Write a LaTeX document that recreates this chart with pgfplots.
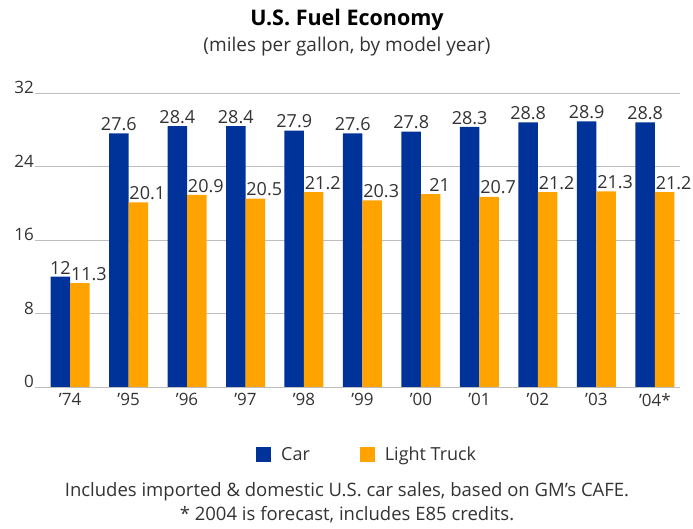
\documentclass[border=0pt]{standalone}
\usepackage{pgfplots}
\pgfplotsset{compat=1.18}
\usepackage{fontspec}
\setmainfont{Open Sans}
\definecolor{carblue}{RGB}{0,51,153}
\definecolor{truckorange}{RGB}{255,163,0}
\definecolor{txt}{RGB}{51,51,51}
\definecolor{gridc}{RGB}{190,190,190}
\begin{document}
\begin{tikzpicture}[x=1pt,y=1pt]
\path[use as bounding box] (0,0) rectangle (693,529);
\node[font=\fontsize{21.5}{25}\selectfont\bfseries, text=black] at (347,509) {U.S. Fuel Economy};
\node[font=\fontsize{19}{22}\selectfont, text=txt] at (347,482) {(miles per gallon, by model year)};
\node[font=\fontsize{18.5}{22}\selectfont, text=txt] at (347,37) {Includes imported \& domestic U.S. car sales, based on GM’s CAFE.};
\node[font=\fontsize{18.5}{22}\selectfont, text=txt] at (347,14) {* 2004 is forecast, includes E85 credits.};
\begin{axis}[
  at={(35pt,142pt)}, anchor=south west,
  scale only axis, width=645pt, height=294pt,
  ybar=0pt, bar width=19.5pt,
  xmin=-0.6, xmax=10.43, ymin=0, ymax=32,
  axis line style={draw=none},
  ymajorgrids, grid style={gridc, line width=0.8pt},
  ytick={0,8,16,24,32},
  xtick={0,...,10},
  xticklabels={’74,’95,’96,’97,’98,’99,’00,’01,’02,’03,’04*},
  major tick length=0pt,
  /pgf/number format/assume math mode=true,
  tick label style={font=\fontsize{17}{20}\selectfont, text=txt},
  yticklabel style={anchor=south east, inner xsep=1pt, yshift=-4.5pt},
  xticklabel style={yshift=-3pt},
  nodes near coords,
  every node near coord/.append style={font=\fontsize{18}{21}\selectfont, text=txt, inner ysep=2.5pt},
  legend style={at={(0.515,-0.231)}, anchor=center, draw=none, fill=none,
    legend columns=2, font=\fontsize{18}{21}\selectfont, text=txt,
    /tikz/every odd column/.append style={column sep=8pt},
    /tikz/every even column/.append style={column sep=48pt}},
  legend image code/.code={\fill[#1] (0pt,-7.5pt) rectangle (15pt,7.5pt);},
]
\addplot[fill=carblue, draw=none] coordinates {(0,12) (1,27.6) (2,28.4) (3,28.4) (4,27.9) (5,27.6) (6,27.8) (7,28.3) (8,28.8) (9,28.9) (10,28.8)};
\addplot[fill=truckorange, draw=none, every node near coord/.append style={xshift=9pt}] coordinates {(0,11.3) (1,20.1) (2,20.9) (3,20.5) (4,21.2) (5,20.3) (6,21) (7,20.7) (8,21.2) (9,21.3) (10,21.2)};
\legend{Car,Light Truck}
\end{axis}
\end{tikzpicture}
\end{document}
